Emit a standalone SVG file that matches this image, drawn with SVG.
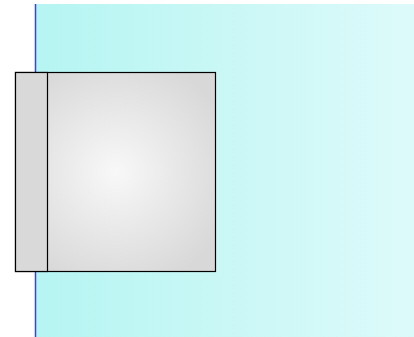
<svg xmlns="http://www.w3.org/2000/svg" width="414" height="337" viewBox="0 0 414 337">
<defs>
<linearGradient id="bg" x1="0" y1="0" x2="1" y2="0">
<stop offset="0" stop-color="#b5f5f2"/>
<stop offset="1" stop-color="#ddfafa"/>
</linearGradient>
<radialGradient id="box" cx="0.5" cy="0.5" r="0.6">
<stop offset="0" stop-color="#f8f8f8"/>
<stop offset="1" stop-color="#d8d8d8"/>
</radialGradient>
</defs>
<style>.edge{stroke:#000;stroke-width:1.5;fill:none}</style>
<g id="pool">
<rect x="35" y="4" width="379" height="333" fill="url(#bg)"/>
<line x1="35.5" y1="4" x2="35.5" y2="337" stroke="#3344ee" stroke-width="1.5"/>
</g>
<g id="node">
<rect x="15.5" y="72.5" width="200" height="199" fill="url(#box)" stroke="#000" stroke-width="1.2"/>
<rect x="15.5" y="72.5" width="32" height="199" fill="#d9d9d9" stroke="#000" stroke-width="1.2"/>
</g>
<g id="connectors"></g>
</svg>
